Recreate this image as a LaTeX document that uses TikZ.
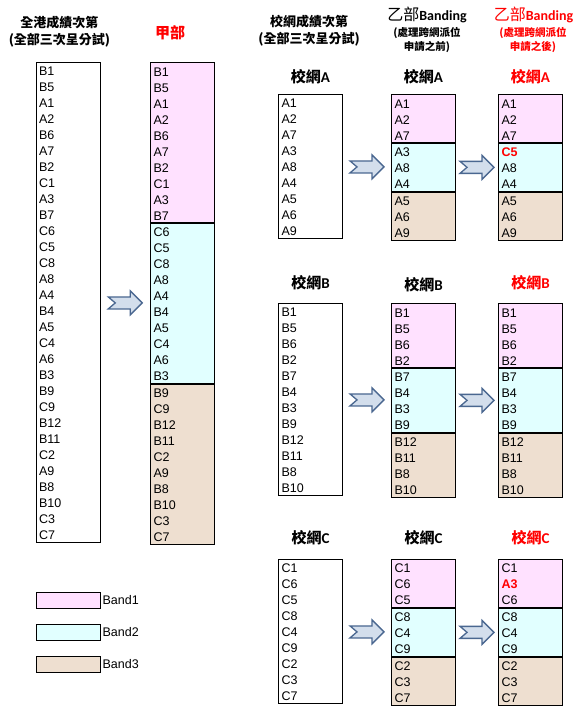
\documentclass[tikz,border=0pt]{standalone}
\usepackage{fontspec}
\setmainfont{Liberation Sans}
\newfontfamily\cjk{Noto Sans CJK TC}
\newfontfamily\calfont{Carlito}
\usetikzlibrary{positioning,calc}

\definecolor{bandone}{HTML}{FFE1FF}
\definecolor{bandtwo}{HTML}{E1FFFF}
\definecolor{bandthree}{HTML}{EEDFD0}
\definecolor{arrowfill}{HTML}{D3DEEC}
\definecolor{arrowline}{HTML}{4A6790}

\newcommand{\hl}[1]{\textcolor{red}{\textbf{#1}}}
\newcommand{\schnet}[1]{{\cjk\bfseries 校網}{\calfont\bfseries #1}}

\tikzset{
  bandarrow/.pic={
    \draw[arrowline, fill=arrowfill, line width=1.3pt, line join=miter]
      (-17,-6) -- (5,-6) -- (5,-12) -- (17,0) -- (5,12) -- (5,6) -- (-17,6) -- (-10,0) -- cycle;
  }
}

\begin{document}
\begin{tikzpicture}[x=1pt, y=-1pt, font=\fontsize{12.5}{16}\selectfont,
    rank/.style={draw, line width=0.9pt, anchor=north, text width=58pt, inner xsep=3pt,
      inner ysep=0pt, align=left, minimum height=#1*16pt, execute at begin node=\strut},
    key/.style={draw, line width=0.9pt, minimum width=64pt, minimum height=16pt, inner sep=0pt},
    headtxt/.style={align=center, font={\cjk\bfseries\fontsize{13}{17}\selectfont}},
    subtxt/.style={align=center, font={\cjk\bfseries\fontsize{10.5}{14}\selectfont}},
    netlbl/.style={font=\fontsize{15}{18}\selectfont}]
  \useasboundingbox (0,0) rectangle (587,717);

  % headers
  \node[headtxt] (hall) at (59.5,31.5) {全港成績次第\\(全部三次呈分試)};
  \node[headtxt, red, font={\cjk\bfseries\fontsize{15}{18}\selectfont}] (hjia) at (170,33) {甲部};
  \node[headtxt] (hnet) at (309,30.5) {校網成績次第\\(全部三次呈分試)};
  \node (hbef) at (427,15) {{\cjk\fontsize{16}{18}\selectfont 乙部}{\calfont\bfseries\fontsize{14}{16}\selectfont Banding}};
  \node[subtxt] (hbefsub) at (427,40) {(處理跨網派位\\申請之前)};
  \node[red] (haft) at (533.5,15) {{\cjk\fontsize{16}{18}\selectfont 乙部}{\calfont\bfseries\fontsize{14}{16}\selectfont Banding}};
  \node[subtxt, red] (haftsub) at (533,40) {(處理跨網派位\\申請之後)};

  % whole territory
  \node[rank=30] (all) at (68,62) {B1\\B5\\A1\\A2\\B6\\A7\\B2\\C1\\A3\\B7\\C6\\C5\\C8\\A8\\A4\\B4\\A5\\C4\\A6\\B3\\B9\\C9\\B12\\B11\\C2\\A9\\B8\\B10\\C3\\C7};
  \node[rank=10, fill=bandone] (jia1) at (182.5,62) {B1\\B5\\A1\\A2\\B6\\A7\\B2\\C1\\A3\\B7};
  \node[rank=10, fill=bandtwo, below=0pt of jia1] (jia2) {C6\\C5\\C8\\A8\\A4\\B4\\A5\\C4\\A6\\B3};
  \node[rank=10, fill=bandthree, below=0pt of jia2] (jia3) {B9\\C9\\B12\\B11\\C2\\A9\\B8\\B10\\C3\\C7};
  \pic at ($(all.east)!0.5!(jia2.west)$) {bandarrow};

  % net A
  \node[netlbl] (lblA) at (310.5,77) {\schnet{A}};
  \node[netlbl] (lblbefA) at (423.5,77) {\schnet{A}};
  \node[netlbl, red] (lblaftA) at (530.5,77) {\schnet{A}};
  \node[rank=9] (schA) at (310.5,94) {A1\\A2\\A7\\A3\\A8\\A4\\A5\\A6\\A9};
  \node[rank=3, fill=bandone] (befA1) at (423.5,94) {A1\\A2\\A7};
  \node[rank=3, fill=bandtwo, below=0pt of befA1] (befA2) {A3\\A8\\A4};
  \node[rank=3, fill=bandthree, below=0pt of befA2] (befA3) {A5\\A6\\A9};
  \node[rank=3, fill=bandone] (aftA1) at (530.5,94) {A1\\A2\\A7};
  \node[rank=3, fill=bandtwo, below=0pt of aftA1] (aftA2) {\hl{C5}\\A8\\A4};
  \node[rank=3, fill=bandthree, below=0pt of aftA2] (aftA3) {A5\\A6\\A9};
  \pic at ($(schA.east)!0.5!(befA2.west)$) {bandarrow};
  \pic at ($(befA2.east)!0.5!(aftA2.west)$) {bandarrow};

  % net B
  \node[netlbl] (lblB) at (310.5,283) {\schnet{B}};
  \node[netlbl] (lblbefB) at (423.5,285) {\schnet{B}};
  \node[netlbl, red] (lblaftB) at (530.5,283) {\schnet{B}};
  \node[rank=12] (schB) at (310.5,303) {B1\\B5\\B6\\B2\\B7\\B4\\B3\\B9\\B12\\B11\\B8\\B10};
  \node[rank=4, fill=bandone] (befB1) at (423.5,303) {B1\\B5\\B6\\B2};
  \node[rank=4, fill=bandtwo, below=0pt of befB1] (befB2) {B7\\B4\\B3\\B9};
  \node[rank=4, fill=bandthree, below=0pt of befB2] (befB3) {B12\\B11\\B8\\B10};
  \node[rank=4, fill=bandone] (aftB1) at (530.5,303) {B1\\B5\\B6\\B2};
  \node[rank=4, fill=bandtwo, below=0pt of aftB1] (aftB2) {B7\\B4\\B3\\B9};
  \node[rank=4, fill=bandthree, below=0pt of aftB2] (aftB3) {B12\\B11\\B8\\B10};
  \pic at ($(schB.east)!0.5!(befB2.west)$) {bandarrow};
  \pic at ($(befB2.east)!0.5!(aftB2.west)$) {bandarrow};

  % net C
  \node[netlbl] (lblC) at (310.5,538) {\schnet{C}};
  \node[netlbl] (lblbefC) at (423.5,538) {\schnet{C}};
  \node[netlbl, red] (lblaftC) at (530.5,538) {\schnet{C}};
  \node[rank=9] (schC) at (310.5,559) {C1\\C6\\C5\\C8\\C4\\C9\\C2\\C3\\C7};
  \node[rank=3, fill=bandone] (befC1) at (423.5,559) {C1\\C6\\C5};
  \node[rank=3, fill=bandtwo, below=0pt of befC1] (befC2) {C8\\C4\\C9};
  \node[rank=3, fill=bandthree, below=0pt of befC2] (befC3) {C2\\C3\\C7};
  \node[rank=3, fill=bandone] (aftC1) at (530.5,559) {C1\\\hl{A3}\\C6};
  \node[rank=3, fill=bandtwo, below=0pt of aftC1] (aftC2) {C8\\C4\\C9};
  \node[rank=3, fill=bandthree, below=0pt of aftC2] (aftC3) {C2\\C3\\C7};
  \pic at ($(schC.east)!0.5!(befC2.west)$) {bandarrow};
  \pic at ($(befC2.east)!0.5!(aftC2.west)$) {bandarrow};

  % legend
  \node[key, fill=bandone] (key1) at (68,600) {};
  \node[right=0pt of key1, inner xsep=2pt] (key1txt) {Band1};
  \node[key, fill=bandtwo] (key2) at (68,632) {};
  \node[right=0pt of key2, inner xsep=2pt] (key2txt) {Band2};
  \node[key, fill=bandthree] (key3) at (68,664) {};
  \node[right=0pt of key3, inner xsep=2pt] (key3txt) {Band3};
\end{tikzpicture}
\end{document}
